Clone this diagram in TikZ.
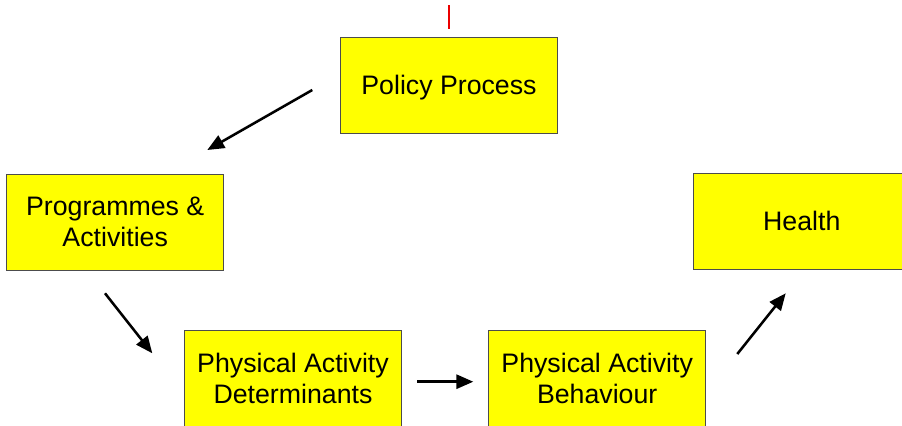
\documentclass[tikz,border=0pt]{standalone}
\usepackage{fontspec}
\setmainfont{Liberation Sans}
\usetikzlibrary{arrows.meta, positioning}
\definecolor{markred}{RGB}{235,0,0}
\definecolor{boxyellow}{RGB}{255,255,0}

\begin{document}
\begin{tikzpicture}[x=0.025cm, y=-0.025cm,
    stage/.style={draw=black!70, line width=0.6pt, fill=boxyellow,
        minimum width=5.425cm, minimum height=2.4cm, align=center,
        text depth=0pt, font=\fontsize{19}{22}\selectfont},
    flow/.style={-{Triangle[length=12pt, width=10pt]}, line width=1.8pt}]
    \useasboundingbox (0,0) rectangle (902,426);
    % Small red mark above the top box
    \fill[markred] (448.4,5) rectangle (450.2,29);
    % Stages of the cycle
    \node[stage] (policy) at (449,85) {Policy Process};
    \node[stage] (prog) at (115.2,222.2) {Programmes \&\\Activities};
    \node[stage] (health) at (801.8,221) {Health};
    \node[stage] (det) at (293,378.7) {Physical Activity\\Determinants};
    \node[stage] (beh) at (597.2,378) {Physical Activity\\Behaviour};
    % Free ends of the arrows
    \coordinate (a1s) at (312.3,90);
    \coordinate (a1e) at (207.3,150);
    \coordinate (a2s) at (105,293.3);
    \coordinate (a2e) at (152.3,353.3);
    \coordinate (a3s) at (417.3,381.7);
    \coordinate (a3e) at (473.3,381.7);
    \coordinate (a4s) at (737.3,354);
    \coordinate (a4e) at (785.7,293.3);
    % Arrows between the stages
    \draw[flow] (a1s) -- (a1e);
    \draw[flow] (a2s) -- (a2e);
    \draw[flow] (a3s) -- (a3e);
    \draw[flow] (a4s) -- (a4e);
\end{tikzpicture}
\end{document}
